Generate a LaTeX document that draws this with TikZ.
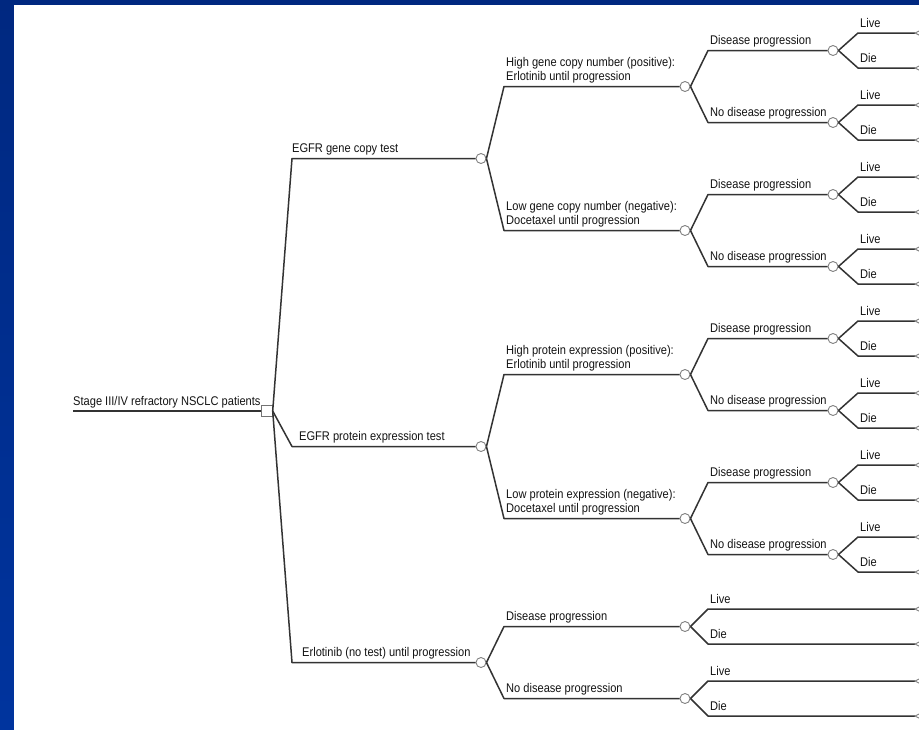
\documentclass[tikz,border=0pt]{standalone}
\usepackage{fontspec}
\setmainfont[FakeStretch=0.88]{Liberation Sans}
\definecolor{bgtop}{RGB}{0,40,128}
\definecolor{bgbot}{RGB}{0,52,158}
\newcommand\mkLD[3]{%
  \coordinate (#1-Lc) at (#3,{#2-17.5});
  \coordinate (#1-Xc) at (#3,{#2+17.5});
  \coordinate (#1-Lt) at (915,{#2-17.5});
  \coordinate (#1-Xt) at (915,{#2+17.5});
  \draw[br] (#1.east) -- (#1-Lc) -- (#1-Lt);
  \draw[br] (#1.east) -- (#1-Xc) -- (#1-Xt);
  \draw[term] (#1-Lt) -- ++(8,-4) -- ++(0,8) -- cycle;
  \draw[term] (#1-Xt) -- ++(8,-4) -- ++(0,8) -- cycle;
  \node[lab] (#1-Ll) at ({#3+2},{#2-23.5}) {Live};
  \node[lab] (#1-Xl) at ({#3+2},{#2+11.5}) {Die};
}
\begin{document}
\begin{tikzpicture}[x=1pt,y=-1pt,
  br/.style={draw=black!80, line width=1.5pt, line join=round},
  chance/.style={circle, draw=black!50, fill=white, line width=0.9pt, minimum size=10pt, inner sep=0pt},
  decision/.style={rectangle, draw=black!55, fill=white, line width=0.9pt, minimum size=10.5pt, inner sep=0pt},
  term/.style={draw=black!50, fill=white, line width=0.9pt},
  lab/.style={anchor=base west, inner sep=0pt, text=black!92, font=\fontsize{12.6}{14}\selectfont}]
\useasboundingbox (0,0) rectangle (919,729);
% background frame
\shade[top color=bgtop, bottom color=bgbot] (-2,-2) rectangle (921,731);
\fill[bgtop] (-2,-2) rectangle (921,5);
\fill[white] (14,5) rectangle (925,735);

% root
\coordinate (R0) at (73,411);
\node[decision] (R) at (267,411) {};
\draw[br] (R0) -- (R);
\node[lab] (Rl) at (73,405.5) {Stage III/IV refractory NSCLC patients};

% level 1
\coordinate (Ac) at (292,158.5);
\node[chance] (A) at (481,158.5) {};
\coordinate (Bc) at (292,446.5);
\node[chance] (B) at (481,446.5) {};
\coordinate (Cc) at (292,662.5);
\node[chance] (C) at (481,662.5) {};
\draw[br] (R.east) -- (Ac) -- (A);
\draw[br] (R.east) -- (Bc) -- (B);
\draw[br] (R.east) -- (Cc) -- (C);
\node[lab] (Al) at (292,152.5) {EGFR gene copy test};
\node[lab] (Bl) at (299,440.5) {EGFR protein expression test};
\node[lab] (Cl) at (302,656.5) {Erlotinib (no test) until progression};

% level 2
\coordinate (A1c) at (504,86.5);  \node[chance] (A1) at (685,86.5) {};
\coordinate (A2c) at (504,230.5); \node[chance] (A2) at (685,230.5) {};
\coordinate (B1c) at (504,374.5); \node[chance] (B1) at (685,374.5) {};
\coordinate (B2c) at (504,518.5); \node[chance] (B2) at (685,518.5) {};
\draw[br] (A.east) -- (A1c) -- (A1);
\draw[br] (A.east) -- (A2c) -- (A2);
\draw[br] (B.east) -- (B1c) -- (B1);
\draw[br] (B.east) -- (B2c) -- (B2);
\node[lab] (A1la) at (506,66.5) {High gene copy number (positive):};
\node[lab] (A1lb) at (506,80) {Erlotinib until progression};
\node[lab] (A2la) at (506,210.5) {Low gene copy number (negative):};
\node[lab] (A2lb) at (506,224) {Docetaxel until progression};
\node[lab] (B1la) at (506,354.5) {High protein expression (positive):};
\node[lab] (B1lb) at (506,368) {Erlotinib until progression};
\node[lab] (B2la) at (506,498.5) {Low protein expression (negative):};
\node[lab] (B2lb) at (506,512) {Docetaxel until progression};

% level 3 and 4 for tested arms
\foreach \p/\y in {A1/86.5,A2/230.5,B1/374.5,B2/518.5}{
  \pgfmathsetmacro\ya{\y-36}
  \pgfmathsetmacro\yb{\y+36}
  \coordinate (\p-Dc) at (708,\ya);
  \node[chance] (\p-D) at (833,\ya) {};
  \coordinate (\p-Nc) at (708,\yb);
  \node[chance] (\p-N) at (833,\yb) {};
  \draw[br] (\p.east) -- (\p-Dc) -- (\p-D);
  \draw[br] (\p.east) -- (\p-Nc) -- (\p-N);
  \node[lab] (\p-Dl) at (710,{\ya-6.5}) {Disease progression};
  \node[lab] (\p-Nl) at (710,{\yb-6.5}) {No disease progression};
  \mkLD{\p-D}{\ya}{858}
  \mkLD{\p-N}{\yb}{858}
}

% no test arm
\coordinate (C-Dc) at (504,626.5); \node[chance] (C-D) at (685,626.5) {};
\coordinate (C-Nc) at (504,698.5); \node[chance] (C-N) at (685,698.5) {};
\draw[br] (C.east) -- (C-Dc) -- (C-D);
\draw[br] (C.east) -- (C-Nc) -- (C-N);
\node[lab] (C-Dl) at (506,620) {Disease progression};
\node[lab] (C-Nl) at (506,692) {No disease progression};
\mkLD{C-D}{626.5}{708}
\mkLD{C-N}{698.5}{708}
\end{tikzpicture}
\end{document}
